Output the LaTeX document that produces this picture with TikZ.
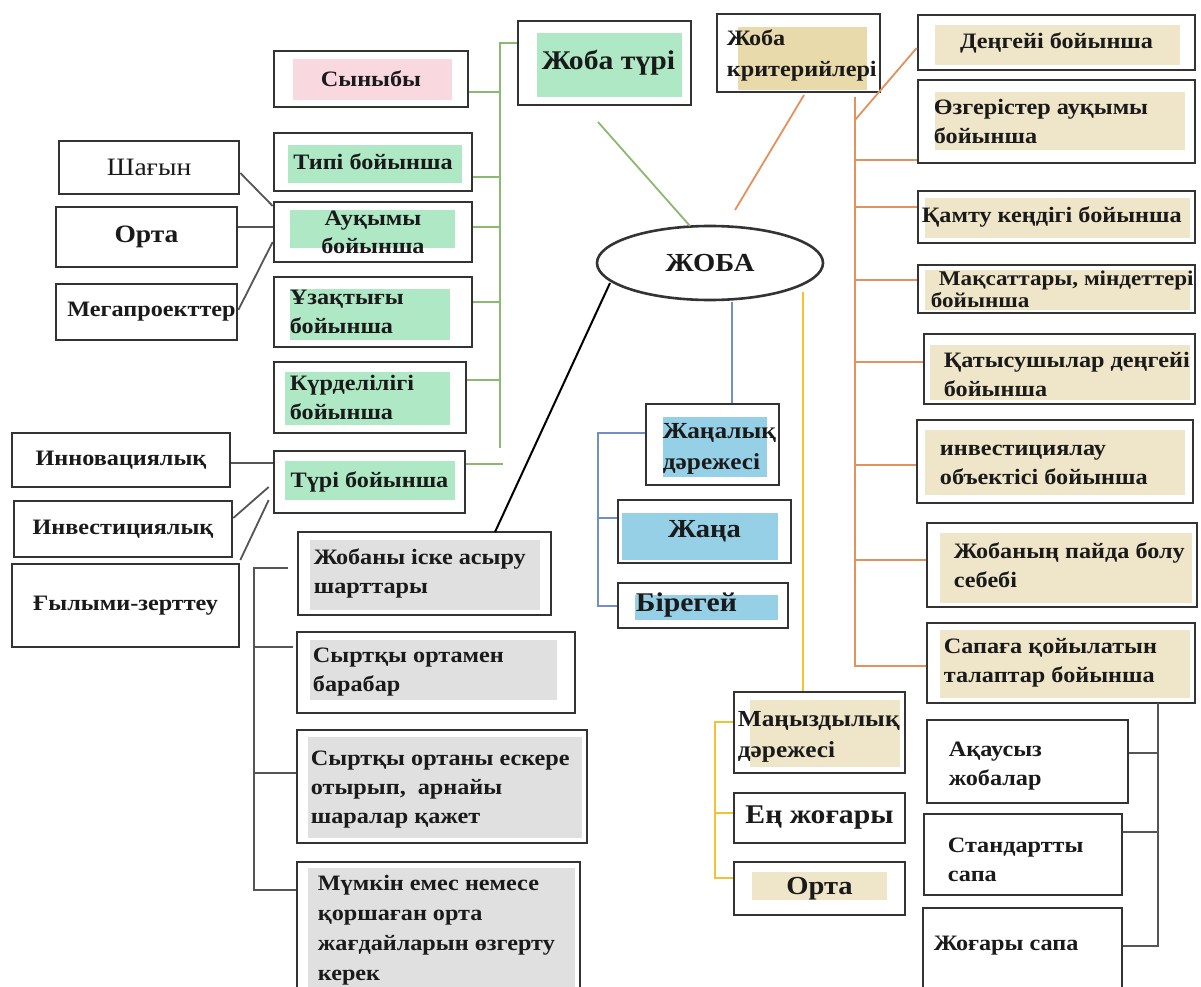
\documentclass[tikz,border=0pt]{standalone}
\usepackage{fontspec}
\setmainfont[FakeStretch=1.1]{Liberation Serif}
\usetikzlibrary{shapes.geometric}
\definecolor{bordc}{HTML}{333333}
\definecolor{txtc}{HTML}{1A1A1A}
\definecolor{pinkf}{HTML}{F9D8E0}
\definecolor{greenf}{HTML}{AEE8C4}
\definecolor{tanf}{HTML}{EFE5C8}
\definecolor{tanf2}{HTML}{E8DAAA}
\definecolor{bluef}{HTML}{96D0E6}
\definecolor{grayf}{HTML}{E0E0E0}
\definecolor{gcol}{HTML}{8DB870}
\definecolor{ocol}{HTML}{E3925E}
\definecolor{bcol}{HTML}{7090C4}
\definecolor{ycol}{HTML}{F0C234}
\definecolor{kcol}{HTML}{555555}
\newcommand\hl[5]{\fill[#1] (#2,#3) rectangle (#4,#5);}
% centred text box: name x1 y1 x2 y2 opts text
\newcommand\cbox[7]{%
 \pgfmathsetmacro\bw{#4-#2}\pgfmathsetmacro\bh{#5-#3}%
 \pgfmathsetmacro\bcx{(#2+#4)/2}\pgfmathsetmacro\bcy{(#3+#5)/2}%
 \node[boxst, minimum width=\bw pt, minimum height=\bh pt] (#1) at (\bcx,\bcy) {};
 \node[txtst, align=center, #6] (#1t) at (#1.center) {#7};}
% left text box: pad name x1 y1 x2 y2 opts text
\newcommand\lbox[8]{%
 \pgfmathsetmacro\bw{#5-#3}\pgfmathsetmacro\bh{#6-#4}%
 \pgfmathsetmacro\bcx{(#3+#5)/2}\pgfmathsetmacro\bcy{(#4+#6)/2}%
 \node[boxst, minimum width=\bw pt, minimum height=\bh pt] (#2) at (\bcx,\bcy) {};
 \node[txtst, anchor=west, align=left, #7] (#2t) at ([xshift=#1pt]#2.west) {#8};}
\begin{document}
\begin{tikzpicture}[x=1pt,y=-1pt,
  boxst/.style={draw=bordc, line width=2.6pt, inner sep=0pt},
  txtst/.style={inner sep=0pt, text=txtc, font=\fontsize{22}{29}\selectfont\bfseries},
  gline/.style={draw=gcol, line width=1.8pt},
  oline/.style={draw=ocol, line width=1.8pt},
  bline/.style={draw=bcol, line width=1.8pt},
  yline/.style={draw=ycol, line width=1.8pt},
  kline/.style={draw=kcol, line width=1.8pt},
  dline/.style={draw=black, line width=2pt}]
\useasboundingbox (0,0) rectangle (1201,987);
\fill[white] (0,0) rectangle (1201,987);
% ---------- highlights ----------
\hl{pinkf}{293}{59}{452}{100}
\hl{greenf}{288}{145}{462}{183}
\hl{greenf}{290}{210}{455}{248}
\hl{greenf}{290}{289}{450}{340}
\hl{greenf}{285}{372}{450}{425}
\hl{greenf}{285}{461}{455}{500}
\hl{greenf}{537}{33}{682}{97}
\hl{tanf2}{738}{27}{867}{90}
\hl{tanf}{935}{25}{1180}{65}
\hl{tanf}{935}{92}{1185}{150}
\hl{tanf}{925}{198}{1190}{238}
\hl{tanf}{925}{270}{1190}{310}
\hl{tanf}{930}{345}{1190}{400}
\hl{tanf}{925}{430}{1185}{495}
\hl{tanf}{940}{533}{1192}{603}
\hl{tanf}{940}{630}{1190}{698}
\hl{tanf}{750}{700}{900}{767}
\hl{tanf}{752}{872}{887}{900}
\hl{bluef}{663}{417}{767}{477}
\hl{bluef}{622}{513}{778}{560}
\hl{bluef}{635}{595}{778}{620}
\hl{grayf}{310}{540}{540}{610}
\hl{grayf}{310}{640}{557}{700}
\hl{grayf}{308}{737}{582}{838}
\hl{grayf}{308}{868}{575}{987}
% ---------- left-most boxes ----------
\cbox{a1}{59}{141}{239}{194}{font=\fontsize{25}{30}\selectfont\mdseries}{Шағын}
\cbox{a2}{56}{207}{237}{267}{font=\fontsize{25}{30}\selectfont\bfseries}{Орта}
\cbox{a3}{56}{284}{237}{340}{font=\fontsize{22}{28}\selectfont\bfseries, xshift=5pt}{Мегапроекттер}
\cbox{b1}{12}{433}{230}{487}{}{Инновациялық}
\cbox{b2}{14}{501}{232}{557}{}{Инвестициялық}
\cbox{b3}{12}{564}{239}{647}{}{Ғылыми-зерттеу}
% ---------- green column ----------
\cbox{g0}{274}{51}{468}{107}{}{Сыныбы}
\cbox{g1}{274}{133}{472}{191}{}{Типі бойынша}
\cbox{g2}{274}{202}{472}{262}{font=\fontsize{22}{28}\selectfont\bfseries}{Ауқымы\\бойынша}
\lbox{17}{g3}{274}{277}{472}{347}{}{Ұзақтығы\\бойынша}
\lbox{17}{g4}{274}{362}{466}{433}{}{Күрделілігі\\бойынша}
\cbox{g5}{274}{451}{465}{513}{}{Түрі бойынша}
\cbox{jt}{518}{21}{691}{105}{font=\fontsize{27}{30}\selectfont\bfseries, xshift=4pt}{Жоба түрі}
\lbox{11}{jk}{717}{14}{880}{92}{font=\fontsize{22}{31}\selectfont\bfseries, yshift=-2pt}{Жоба\\критерийлері}
% ---------- centre ----------
\node[draw=bordc, line width=2.6pt, ellipse, minimum width=226pt, minimum height=74pt,
  text=txtc, font=\fontsize{26}{30}\selectfont\bfseries] (zh) at (710,263) {ЖОБА};
% ---------- gray left column ----------
\lbox{17}{h1}{298}{532}{551}{615}{}{Жобаны іске асыру\\шарттары}
\lbox{17}{h2}{297}{632}{575}{713}{}{Сыртқы ортамен\\барабар}
\lbox{15}{h3}{297}{730}{587}{843}{yshift=-3pt}{Сыртқы ортаны ескере\\отырып,\ \ арнайы\\шаралар қажет}
\lbox{22}{h4}{297}{862}{580}{995}{font=\fontsize{22}{30}\selectfont\bfseries, yshift=-2pt}{Мүмкін емес немесе\\қоршаған орта\\жағдайларын өзгерту\\керек}
% ---------- blue ----------
\lbox{18}{j1}{646}{404}{779}{485}{yshift=-4pt, font=\fontsize{23}{31}\selectfont\bfseries}{Жаңалық\\дәрежесі}
\cbox{j2}{618}{500}{791}{563}{font=\fontsize{26}{30}\selectfont\bfseries}{Жаңа}
\lbox{19}{j3}{618}{583}{788}{628}{font=\fontsize{27}{30}\selectfont\bfseries}{Бірегей}
% ---------- yellow ----------
\lbox{5}{k1}{734}{692}{905}{773}{yshift=-4pt, font=\fontsize{23}{31}\selectfont\bfseries}{Маңыздылық\\дәрежесі}
\cbox{k2}{734}{793}{905}{843}{font=\fontsize{27}{30}\selectfont\bfseries}{Ең жоғары}
\cbox{k3}{734}{862}{905}{915}{font=\fontsize{26}{30}\selectfont\bfseries}{Орта}
% ---------- right column ----------
\cbox{r1}{918}{15}{1195}{70}{}{Деңгейі бойынша}
\lbox{17}{r2}{918}{80}{1195}{163}{}{Өзгерістер ауқымы\\бойынша}
\lbox{5}{r3}{918}{191}{1195}{243}{}{Қамту кеңдігі бойынша}
\lbox{22}{r4}{918}{265}{1195}{313}{font=\fontsize{21}{22}\selectfont\bfseries}{Мақсаттары, міндеттері\\\hspace*{-8pt}бойынша}
\lbox{21}{r5}{924}{334}{1195}{404}{yshift=-5pt}{Қатысушылар деңгейі\\бойынша}
\lbox{24}{r6}{917}{420}{1193}{503}{yshift=-3pt}{инвестициялау\\объектісі бойынша}
\lbox{28}{r7}{927}{523}{1197}{607}{}{Жобаның пайда болу\\себебі}
\lbox{18}{r8}{927}{623}{1195}{703}{}{Сапаға қойылатын\\талаптар бойынша}
\lbox{23}{s1}{927}{720}{1128}{803}{yshift=-5pt}{Ақаусыз\\жобалар}
\lbox{25}{s2}{924}{814}{1122}{895}{yshift=-5pt}{Стандартты\\сапа}
\lbox{12}{s3}{923}{908}{1122}{995}{yshift=6pt}{Жоғары сапа}
% ---------- green connectors ----------
\coordinate (gtop) at (500,43);
\coordinate (gbot) at (500,448);
\draw[gline] (gbot) -- (gtop) -- (jt.west |- gtop);
\draw[gline] (g0.east |- 0,92) -- (gtop |- 0,92);
\draw[gline] (g1.east |- 0,177) -- (gtop |- 0,177);
\draw[gline] (g2.east |- 0,227) -- (gtop |- 0,227);
\draw[gline] (g3.east |- 0,302) -- (gtop |- 0,302);
\draw[gline] (g4.east |- 0,380) -- (gtop |- 0,380);
\coordinate (g5e) at (503,464);
\draw[gline] (g5.east |- g5e) -- (g5e);
\coordinate (gd) at (598,122);
\coordinate (zhg) at (690,226);
\draw[gline] (gd) -- (zhg);
% ---------- left black connectors ----------
\draw[kline] (a1.east |- 0,173) -- (g2.west |- 0,206);
\draw[kline] (a2.east |- 0,227) -- (g2.west |- 0,227);
\draw[kline] (a3.east |- 0,310) -- (g2.west |- 0,242);
\draw[kline] (b1.east |- 0,463) -- (g5.west |- 0,463);
\draw[kline] (b2.east |- 0,518) -- ([xshift=-4pt]g5.west |- 0,487);
\draw[kline] (b3.east |- 0,560) -- ([xshift=-4pt]g5.west |- 0,500);
\coordinate (zhk) at (610,283);
\coordinate (h1t) at (495,532);
\draw[dline] (zhk) -- (h1t);
% gray left bracket
\coordinate (lt) at (254,568);
\coordinate (lb) at (254,890);
\draw[kline] (288,568) -- (lt) -- (lb) -- (h4.west |- lb);
\draw[kline] (lt |- 0,647) -- (293,647);
\draw[kline] (lt |- 0,773) -- (h3.west |- 0,773);
% ---------- blue connectors ----------
\coordinate (zhb) at (732,302);
\draw[bline] (zhb) -- (j1.north -| zhb);
\coordinate (bt) at (598,433);
\coordinate (bb) at (598,606);
\draw[bline, line width=1.4pt] (j1.west |- bt) -- (bt) -- (bb) -- (j3.west |- bb);
\draw[bline, line width=1.4pt] (bt |- 0,518) -- (j2.west |- 0,518);
% ---------- yellow connectors ----------
\coordinate (zhy) at (803,292);
\draw[yline] (zhy) -- (k1.north -| zhy);
\coordinate (yt) at (715,722);
\coordinate (yb) at (715,878);
\draw[yline, line width=1.4pt] (k1.west |- yt) -- (yt) -- (yb) -- (k3.west |- yb);
\draw[yline, line width=1.4pt] (yt |- 0,813) -- (k2.west |- 0,813);
% ---------- orange connectors ----------
\coordinate (jkb) at (804,95);
\coordinate (zho) at (735,210);
\draw[oline] (jkb) -- (zho);
\coordinate (ot) at (855,97);
\coordinate (ob) at (855,666);
\draw[oline] (ot) -- (ob) -- (r8.west |- ob);
\draw[oline] (ot |- 0,120) -- (r1.west |- 0,48);
\draw[oline] (ot |- 0,160) -- (r2.west |- 0,160);
\draw[oline] (ot |- 0,207) -- (r3.west |- 0,207);
\draw[oline] (ot |- 0,280) -- (r4.west |- 0,280);
\draw[oline] (ot |- 0,362) -- (r5.west |- 0,362);
\draw[oline] (ot |- 0,465) -- (r6.west |- 0,465);
\draw[oline] (ot |- 0,560) -- (r7.west |- 0,560);
% ---------- right gray bracket ----------
\coordinate (rt) at (1158,703);
\coordinate (rb) at (1158,946);
\draw[kline] (rt) -- (rb) -- (s3.east |- rb);
\draw[kline] (rt |- 0,753) -- (s1.east |- 0,753);
\draw[kline] (rt |- 0,832) -- (s2.east |- 0,832);
\end{tikzpicture}
\end{document}
